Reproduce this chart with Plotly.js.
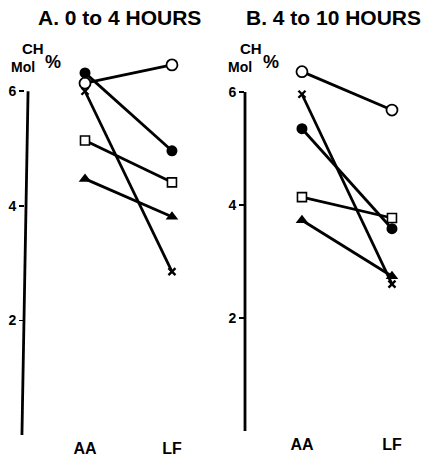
<!DOCTYPE html>
<html>
<head>
<meta charset="utf-8">
<script src="https://cdn.plot.ly/plotly-3.0.1.min.js"></script>
<style>html,body{margin:0;padding:0;background:#fff;}#chart{width:427px;height:460px;}</style>
</head>
<body>
<div id="chart"></div>
<script>
// Data (CH Mol %), sample times AA and LF
var categories = ["AA", "LF"];
var panelTitles = ["A. 0 to 4 HOURS", "B. 4 to 10 HOURS"];
var seriesNames = ["open circle", "filled circle", "cross", "open square", "filled triangle"];
// Panel A: 0 to 4 hours
var aOpenCircle = [6.14, 6.46];
var aFilledCircle = [6.32, 4.96];
var aCross = [6.0, 2.85];
var aOpenSquare = [5.14, 4.41];
var aTriangle = [4.47, 3.81];
// Panel B: 4 to 10 hours
var bOpenCircle = [6.36, 5.68];
var bFilledCircle = [5.35, 3.58];
var bCross = [5.96, 2.6];
var bOpenSquare = [4.14, 3.77];
var bTriangle = [3.73, 2.74];
var yTicks = [2, 4, 6];

var xPos = [1, 2];
var F = "Liberation Sans, Arial, sans-serif";
var styles = [
  {symbol: "circle", size: 11, fill: "#fff", lw: 1.8},
  {symbol: "circle", size: 11, fill: "#000", lw: 0},
  {symbol: "x-thin", size: 7, fill: "#000", lw: 2.4},
  {symbol: "square", size: 9, fill: "#fff", lw: 1.6},
  {symbol: "triangle-up", size: 11, fill: "#000", lw: 0}
];
function mk(vals, i, xa, ya) {
  var s = styles[i];
  return {
    x: xPos, y: vals, xaxis: xa, yaxis: ya, type: "scatter", mode: "lines+markers",
    name: seriesNames[i], cliponaxis: false,
    line: {color: "#000", width: 2.8},
    marker: {symbol: s.symbol, size: s.size, color: s.fill, line: {width: s.lw, color: "#000"}}
  };
}
var A = [aOpenCircle, aFilledCircle, aCross, aOpenSquare, aTriangle];
var B = [bOpenCircle, bFilledCircle, bCross, bOpenSquare, bTriangle];
var traces = [];
A.forEach(function (v, i) { traces.push(mk(v, i, "x", "y")); });
B.forEach(function (v, i) { traces.push(mk(v, i, "x2", "y2")); });

function yax(dom, anchor) {
  return {domain: dom, range: [0, 6.8], anchor: anchor, tickvals: yTicks, ticktext: yTicks.map(String),
          ticks: "outside", ticklen: 5, tickwidth: 1.5, tickcolor: "#000", showline: false,
          showgrid: false, zeroline: false, tickfont: {family: F, size: 14, color: "#000", weight: "bold"}};
}
function xax(dom, rng, anchor) {
  return {domain: dom, range: rng, anchor: anchor, tickvals: xPos, ticktext: categories,
          ticks: "", showline: false, showgrid: false, zeroline: false, ticklabelstandoff: 2,
          tickfont: {family: F, size: 16, color: "#000", weight: "bold"}};
}
var W = 427, H = 460;
function ann(text, x, y, size) {
  return {text: text, xref: "paper", yref: "paper", x: x / W, y: 1 - y / H, xanchor: "center", yanchor: "middle",
          showarrow: false, font: {family: F, size: size, color: "#000", weight: "bold"}};
}
var layout = {
  width: W, height: H, margin: {l: 0, r: 0, t: 0, b: 0},
  paper_bgcolor: "#fff", plot_bgcolor: "#fff", showlegend: false,
  xaxis: xax([25 / W, 205 / W], [0.31, 2.38], "y"),
  yaxis: yax([1 - 435 / H, 1 - 45.4 / H], "x"),
  xaxis2: xax([245 / W, 425 / W], [0.367, 2.367], "y2"),
  yaxis2: yax([1 - 431 / H, 1 - 46.8 / H], "x2"),
  shapes: [
    {type: "line", xref: "x domain", yref: "y", x0: -0.017, x1: 0.017, y0: 0, y1: 6, line: {color: "#000", width: 2.8}},
    {type: "line", xref: "x2 domain", yref: "y2", x0: 0, x1: 0, y0: 0, y1: 6, line: {color: "#000", width: 2.8}}
  ],
  annotations: [
    ann(panelTitles[0], 120, 17, 21),
    ann(panelTitles[1], 333, 17, 21),
    ann("CH", 33, 49, 15),
    ann("Mol", 23, 67, 14),
    ann("%", 53, 62, 18),
    ann("CH", 251, 49, 15),
    ann("Mol", 240, 67, 14),
    ann("%", 271, 62, 18)
  ]
};
Plotly.newPlot("chart", traces, layout, {displayModeBar: false, staticPlot: true});
</script>
</body>
</html>
